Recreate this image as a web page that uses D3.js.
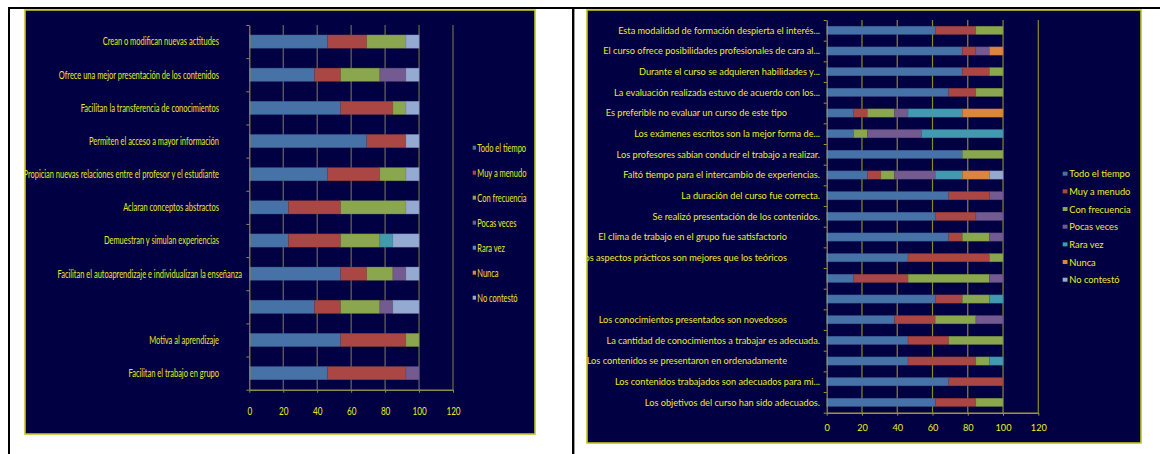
<!DOCTYPE html>
<html><head><meta charset="utf-8">
<script src="https://cdn.jsdelivr.net/npm/d3@7/dist/d3.min.js"></script>
<style>
body{margin:0;background:#fff}
svg{display:block}
text{font-family:Lato,"Open Sans",sans-serif;white-space:pre}
</style>
</head><body>
<svg id="chart" width="1160" height="454"></svg>
<script>
// ---------- DATA ----------
const seriesNames = ["Todo el tiempo","Muy a menudo","Con frecuencia","Pocas veces","Rara vez","Nunca","No contestó"];
const seriesColors = ["#4672a8","#aa4744","#8aa64f","#735a90","#4399b0","#dc853e","#95aad0"];
const xTicks = [0,20,40,60,80,100,120];

// Left chart (top to bottom)
const leftCategories = [
  "Crean o modifican nuevas actitudes",
  "Ofrece una mejor presentación de los contenidos",
  "Facilitan la transferencia de conocimientos",
  "Permiten el acceso a mayor información",
  "Propician nuevas relaciones entre el profesor y el estudiante",
  "Aclaran conceptos abstractos",
  "Demuestran y simulan experiencias",
  "Facilitan el autoaprendizaje e individualizan la enseñanza",
  "",
  "Motiva al aprendizaje",
  "Facilitan el trabajo en grupo"
];
const leftTodo   = [46.15,38.46,53.85,69.23,46.15,23.08,23.08,53.85,38.46,53.85,46.15];
const leftMuy    = [23.08,15.38,30.77,23.08,30.77,30.77,30.77,15.38,15.38,38.46,46.15];
const leftCon    = [23.08,23.08, 7.69, 0,   15.38,38.46,23.08,15.38,23.08, 7.69, 0];
const leftPocas  = [ 0,   15.38, 0,    0,    0,    0,    0,    7.69, 7.69, 0,    7.69];
const leftRara   = [ 0,    0,    0,    0,    0,    0,    7.69, 0,    0,    0,    0];
const leftNunca  = [ 0,    0,    0,    0,    0,    0,    0,    0,    0,    0,    0];
const leftNoCont = [ 7.69, 7.69, 7.69, 7.69, 7.69, 7.69,15.38, 7.69,15.38, 0,    0];

// Right chart (top to bottom)
const rightCategories = [
  "Esta modalidad de formación despierta el interés...",
  "El curso ofrece posibilidades profesionales de cara al...",
  "Durante el curso se adquieren habilidades y...",
  "La evaluación realizada estuvo de acuerdo con los...",
  "Es preferible no evaluar un curso de este tipo",
  "Los exámenes escritos son la mejor forma de...",
  "Los profesores sabían conducir el trabajo a realizar.",
  "Faltó tiempo para el intercambio de experiencias.",
  "La duración del curso fue correcta.",
  "Se realizó presentación de los contenidos.",
  "El clima de trabajo en el grupo fue satisfactorio",
  "Los aspectos prácticos son mejores que los teóricos",
  "",
  "",
  "Los conocimientos presentados son novedosos",
  "La cantidad de conocimientos a trabajar es adecuada.",
  "Los contenidos se presentaron en ordenadamente",
  "Los contenidos trabajados son adecuados para mi...",
  "Los objetivos del curso han sido adecuados."
];
const rightTodo   = [61.54,76.92,76.92,69.23,15.38,15.38,76.92,23.08,69.23,61.54,69.23,46.15,15.38,61.54,38.46,46.15,46.15,69.23,61.54];
const rightMuy    = [23.08, 7.69,15.38,15.38, 7.69, 0,    0,    7.69,23.08,23.08, 7.69,46.15,30.77,15.38,23.08,23.08,38.46,30.77,23.08];
const rightCon    = [15.38, 0,    7.69,15.38,15.38, 7.69,23.08, 7.69, 0,    0,   15.38, 7.69,46.15,15.38,23.08,30.77, 7.69, 0,   15.38];
const rightPocas  = [ 0,    7.69, 0,    0,    7.69,30.77, 0,   23.08, 7.69,15.38, 7.69, 0,    7.69, 0,   15.38, 0,    0,    0,    0];
const rightRara   = [ 0,    0,    0,    0,   30.77,46.15, 0,   15.38, 0,    0,    0,    0,    0,    7.69, 0,    0,    7.69, 0,    0];
const rightNunca  = [ 0,    7.69, 0,    0,   23.08, 0,    0,   15.38, 0,    0,    0,    0,    0,    0,    0,    0,    0,    0,    0];
const rightNoCont = [ 0,    0,    0,    0,    0,    0,    0,    7.69, 0,    0,    0,    0,    0,    0,    0,    0,    0,    0,    0];

// ---------- LAYOUT ----------
const svg = d3.select("#chart");
svg.append("rect").attr("width",1160).attr("height",454).attr("fill","#fff");

function buildRows(cats, cols){
  return cats.map((c,i)=>{
    const r = {idx:i, label:c};
    seriesNames.forEach((s,k)=> r[s] = cols[k][i]);
    return r;
  });
}

function drawPanel(p){
  const g = svg.append("g");
  const clipId = "clip"+p.id;
  svg.append("clipPath").attr("id",clipId).append("rect")
     .attr("x",p.box[0]).attr("y",p.box[1]).attr("width",p.box[2]).attr("height",p.box[3]);
  g.append("rect").attr("x",p.box[0]).attr("y",p.box[1]).attr("width",p.box[2]).attr("height",p.box[3])
   .attr("fill","#000042").attr("stroke",p.border).attr("stroke-width",1.6);
  const cg = g.append("g").attr("clip-path",`url(#${clipId})`);

  const rows = buildRows(p.cats, p.cols);
  const x = d3.scaleLinear().domain([0,120]).range([p.x0,p.x1]);
  const y = d3.scaleBand().domain(d3.range(rows.length)).range([p.y0,p.y1]).paddingInner(0.6).paddingOuter(0.3);
  const yb = d3.scaleLinear().domain([0,rows.length]).range([p.y0,p.y1]);

  // gridlines
  cg.append("g").selectAll("line").data(xTicks.slice(1)).join("line")
    .attr("x1",d=>x(d)).attr("x2",d=>x(d)).attr("y1",p.y0).attr("y2",p.y1)
    .attr("stroke",p.grid).attr("stroke-width",1.2);

  // bars
  const stack = d3.stack().keys(seriesNames)(rows);
  cg.append("g").selectAll("g").data(stack).join("g")
    .attr("fill",(d,i)=>seriesColors[i])
    .attr("stroke",(d,i)=>d3.color(seriesColors[i]).darker(0.7))
    .attr("stroke-width",0.5).attr("stroke-opacity",0.7)
    .selectAll("rect").data(d=>d.filter(v=>v[1]-v[0]>0)).join("rect")
    .attr("x",d=>x(d[0])).attr("width",d=>x(d[1])-x(d[0]))
    .attr("y",d=>y(d.data.idx)).attr("height",y.bandwidth());

  // x axis
  const xa = cg.append("g").attr("transform",`translate(0,${p.y1})`)
    .call(d3.axisBottom(x).tickValues(xTicks).tickSize(3).tickSizeOuter(0));
  xa.select(".domain").attr("stroke",p.axis).attr("stroke-width",1.4);
  xa.selectAll(".tick line").attr("stroke",p.axis);
  xa.selectAll(".tick text").attr("fill",p.text).attr("y",p.tickOffset).attr("dy","0.35em")
    .attr("font-size",p.tickFont).attr("font-family","Lato, sans-serif")
    .attr("transform",`scale(${p.sx},1)`);

  // y axis with ticks at category boundaries
  const ya = cg.append("g").attr("transform",`translate(${p.x0},0)`)
    .call(d3.axisLeft(yb).tickValues(d3.range(rows.length+1)).tickSize(3).tickSizeOuter(0).tickFormat(""));
  ya.select(".domain").attr("stroke",p.axis).attr("stroke-width",1.2);
  ya.selectAll(".tick line").attr("stroke",p.axis);

  // category labels
  cg.append("g").selectAll("text").data(rows).join("text")
    .attr("transform",d=>`translate(${p.shifted.has(d.label)?p.labelEndAlt:p.labelEnd},${y(d.idx)+y.bandwidth()/2}) scale(${p.sx},1)`)
    .attr("text-anchor","end").attr("dy","0.35em")
    .attr("font-size",p.labelFont).attr("fill",p.text)
    .text(d=>d.label);

  // legend
  const ly = d3.scalePoint().domain(seriesNames).range(p.legendY);
  const lg = cg.append("g").selectAll("g").data(seriesNames).join("g")
    .attr("transform",d=>`translate(${p.legendX},${ly(d)})`);
  lg.append("rect").attr("x",0).attr("y",-p.sw/2-0.3).attr("width",p.sw*p.sx*1.2).attr("height",p.sw)
    .attr("fill",(d,i)=>seriesColors[i]);
  lg.append("text").attr("transform",`translate(${p.legendTextDx},0) scale(${p.sx},1)`)
    .attr("dy","0.35em").attr("font-size",p.legendFont).attr("fill",p.text).text(d=>d);
}

// frame lines of the document table
svg.append("rect").attr("x",8).attr("y",7).attr("width",1152).attr("height",2).attr("fill","#000");
svg.append("rect").attr("x",8).attr("y",7).attr("width",2).attr("height",447).attr("fill","#000");
svg.append("rect").attr("x",572).attr("y",7).attr("width",2.4).attr("height",447).attr("fill","#000");

drawPanel({
  id:"L", box:[25,10,510,424], border:"#c4c21c",
  cats:leftCategories, cols:[leftTodo,leftMuy,leftCon,leftPocas,leftRara,leftNunca,leftNoCont],
  x0:249.3, x1:453, y0:25, y1:389.7,
  grid:"#6d6b46", axis:"#8e8c44", text:"#ece91e",
  sx:0.68, labelFont:11, tickFont:12, tickOffset:21, legendFont:11,
  labelEnd:219, labelEndAlt:242,
  shifted:new Set(["Facilitan el autoaprendizaje e individualizan la enseñanza"]),
  legendX:472.7, legendTextDx:4.6, legendY:[148,298], sw:4
});

drawPanel({
  id:"R", box:[587,10,554,433], border:"#c4c21c",
  cats:rightCategories, cols:[rightTodo,rightMuy,rightCon,rightPocas,rightRara,rightNunca,rightNoCont],
  x0:826.7, x1:1038.3, y0:20, y1:412.7,
  grid:"#8c8a22", axis:"#9a9838", text:"#efec20",
  sx:1, labelFont:9.2, tickFont:9.2, tickOffset:15.3, legendFont:9.3,
  labelEnd:820, labelEndAlt:787,
  shifted:new Set(["Es preferible no evaluar un curso de este tipo","El clima de trabajo en el grupo fue satisfactorio",
    "Los aspectos prácticos son mejores que los teóricos","Los conocimientos presentados son novedosos",
    "Los contenidos se presentaron en ordenadamente"]),
  legendX:1062.7, legendTextDx:6.6, legendY:[174,280], sw:4
});
</script>
</body></html>
